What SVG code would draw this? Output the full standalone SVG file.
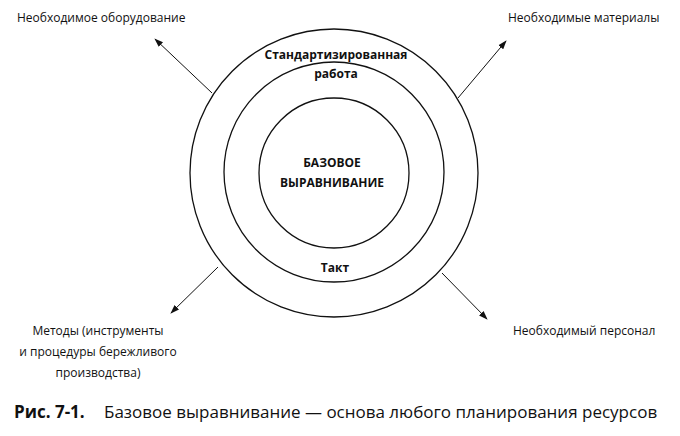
<svg xmlns="http://www.w3.org/2000/svg" width="680" height="436" viewBox="0 0 680 436">
<style>
text{font-family:"Open Sans","Liberation Sans",sans-serif;fill:#111}
.l{font-size:12px}
.b{font-size:12px;font-weight:bold}
circle{fill:none;stroke:#111;stroke-width:1.3}
line{stroke:#111;stroke-width:1}
</style>
<defs><marker id="a" viewBox="0 0 10 10" refX="9" refY="5" markerWidth="9" markerHeight="9" orient="auto"><path d="M0,1.5L10,5L0,8.5z" fill="#111"/></marker></defs>
<rect width="680" height="436" fill="#fff"/>
<g id="outer"><circle cx="334" cy="173" r="144"/></g>
<g id="middle"><circle cx="334" cy="172" r="110"/><text class="b" x="336" y="59" text-anchor="middle">Стандартизированная</text><text class="b" x="336" y="78" text-anchor="middle">работа</text><text class="b" x="335" y="272" text-anchor="middle">Такт</text></g>
<g id="inner"><circle cx="334" cy="173" r="75"/><text class="b" x="332" y="167" text-anchor="middle">БАЗОВОЕ</text><text class="b" x="332" y="187" text-anchor="middle">ВЫРАВНИВАНИЕ</text></g>
<g id="connectors">
<line x1="212" y1="93" x2="155" y2="39" marker-end="url(#a)"/>
<line x1="458" y1="98" x2="506" y2="41" marker-end="url(#a)"/>
<line x1="218" y1="267" x2="171" y2="313" marker-end="url(#a)"/>
<line x1="442" y1="273" x2="487" y2="319" marker-end="url(#a)"/>
</g>
<g id="n1"><text class="l" x="17" y="22">Необходимое оборудование</text></g>
<g id="n2"><text class="l" x="508" y="22">Необходимые материалы</text></g>
<g id="n3"><text class="l" x="98" y="335" text-anchor="middle">Методы (инструменты</text><text class="l" x="98" y="356" text-anchor="middle">и процедуры бережливого</text><text class="l" x="98" y="377" text-anchor="middle">производства)</text></g>
<g id="n4"><text class="l" x="513" y="335">Необходимый персонал</text></g>
<text x="14" y="418" style="font-size:17px"><tspan font-weight="bold">Рис. 7-1.</tspan><tspan x="104">Базовое выравнивание — основа любого планирования ресурсов</tspan></text>
</svg>
